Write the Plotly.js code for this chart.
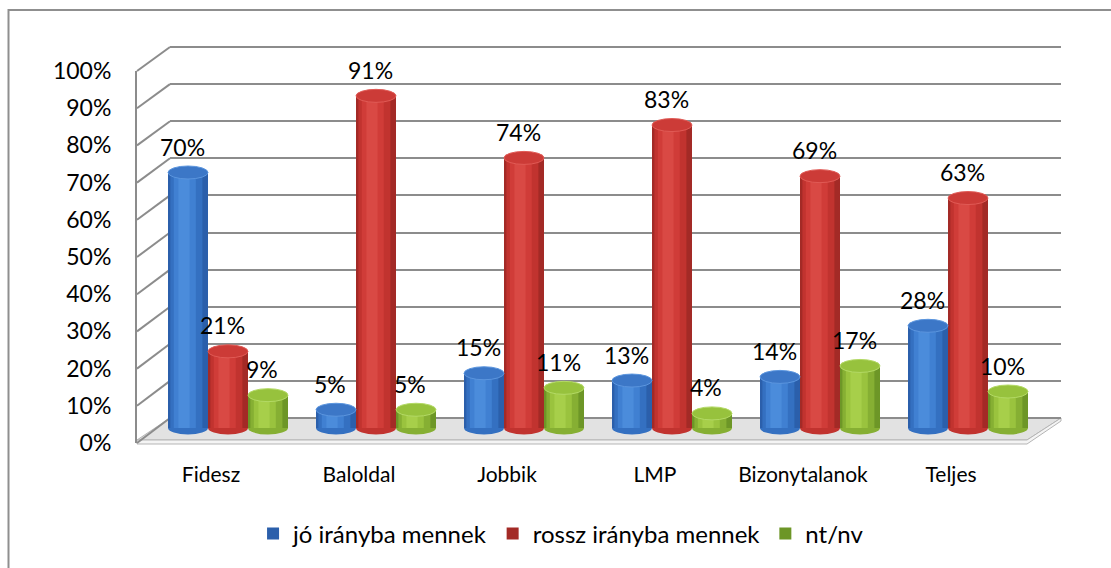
<!DOCTYPE html>
<html>
<head>
<meta charset="utf-8">
<script src="https://cdn.plot.ly/plotly-3.0.1.min.js"></script>
<style>html,body{margin:0;padding:0;background:#fff;}</style>
</head>
<body>
<div id="chart" style="width:1111px;height:568px;"></div>
<script>
// ---------- data ----------
const categories = ['Fidesz', 'Baloldal', 'Jobbik', 'LMP', 'Bizonytalanok', 'Teljes'];
const seriesNames = ['jó irányba mennek', 'rossz irányba mennek', 'nt/nv'];
const joIranyba = [70, 5, 15, 13, 14, 28];
const rosszIranyba = [21, 91, 74, 83, 69, 63];
const ntNv = [9, 5, 11, 4, 17, 10];
const tickValues = [0, 10, 20, 30, 40, 50, 60, 70, 80, 90, 100];
const tickLabels = tickValues.map(v => v + '%');

// ---------- styling ----------
const W = 1111, H = 568;
const px = x => x / W;
const py = y => 1 - y / H;
const seriesValues = [joIranyba, rosszIranyba, ntNv];
const palettes = [
  {layers: ['#2b5fab', '#3470c1', '#4080d2', '#4b8cdb'], cap: '#3c77c7', capLine: '#5b95de'},
  {layers: ['#a32a26', '#c1332f', '#d03c38', '#d94944'], cap: '#cc3b37', capLine: '#e05a55'},
  {layers: ['#6d9627', '#86af33', '#9ac33e', '#a7cf4a'], cap: '#97c23d', capLine: '#b3d965'}
];
const layerSpec = [{wf: 1, sh: 0}, {wf: 0.8, sh: -0.04}, {wf: 0.55, sh: -0.08}, {wf: 0.28, sh: -0.1}];
const bw = 40 / 148;            // bar width in category units
const barPPU = 3.65;            // px per % on bar axis
const eh = 6.5 / barPPU;        // ellipse half height in data units
const gridColor = '#8c8c8c';

const traces = [];
// subplot 1: back wall grid
traces.push({type: 'scatter', x: [], y: [], xaxis: 'x', yaxis: 'y', showlegend: false, hoverinfo: 'skip'});

// subplot 2: bars
seriesValues.forEach((vals, s) => {
  layerSpec.forEach((L, k) => {
    traces.push({
      type: 'bar', x: categories, y: vals, xaxis: 'x2', yaxis: 'y2',
      width: bw * L.wf,
      offset: (s - 1) * bw - bw * L.wf / 2 + L.sh * bw,
      marker: {color: palettes[s].layers[k], line: {width: 0}},
      name: seriesNames[s], legendgroup: 'g' + s, showlegend: k === 0,
      hoverinfo: 'skip'
    });
  });
});

// subplot 3: front axis labels
traces.push({type: 'scatter', x: [], y: [], xaxis: 'x3', yaxis: 'y3', showlegend: false, hoverinfo: 'skip'});

const shapes = [];
// outer frame
shapes.push({type: 'rect', xref: 'paper', yref: 'paper', x0: px(8.5), x1: 1.1, y0: -0.1, y1: py(10),
  line: {color: '#8f8f8f', width: 2}, layer: 'below'});
// floor
shapes.push({type: 'path', xref: 'paper', yref: 'paper', layer: 'below',
  path: `M${px(137)},${py(440)} L${px(170)},${py(418)} L${px(1061)},${py(418)} L${px(1027)},${py(440)} Z`,
  fillcolor: '#e2e2e2', line: {color: '#b5b5b5', width: 1}});
shapes.push({type: 'path', xref: 'paper', yref: 'paper', layer: 'below',
  path: `M${px(137)},${py(440)} L${px(1027)},${py(440)} L${px(1061)},${py(418)} L${px(1061)},${py(421)} L${px(1027)},${py(444)} L${px(137)},${py(444)} Z`,
  fillcolor: '#f4f4f4', line: {color: '#b5b5b5', width: 1}});
// side wall diagonals
tickValues.forEach(t => {
  shapes.push({type: 'line', xref: 'paper', yref: 'paper', layer: 'below',
    x0: px(137), y0: py(443 - t * 3.72), x1: px(170), y1: py(418 - t * 3.71),
    line: {color: gridColor, width: 2}});
});
// cylinder ends
seriesValues.forEach((vals, s) => {
  vals.forEach((v, i) => {
    const xc = i + (s - 1) * bw;
    shapes.push({type: 'circle', xref: 'x2', yref: 'y2', layer: 'below',
      x0: xc - bw / 2, x1: xc + bw / 2, y0: -eh, y1: eh,
      fillcolor: palettes[s].layers[1], line: {width: 0}});
    shapes.push({type: 'circle', xref: 'x2', yref: 'y2', layer: 'above',
      x0: xc - bw / 2, x1: xc + bw / 2, y0: v - eh, y1: v + eh,
      fillcolor: palettes[s].cap, line: {color: palettes[s].capLine, width: 1}});
  });
});

// data labels
const annotations = [];
seriesValues.forEach((vals, s) => {
  vals.forEach((v, i) => {
    annotations.push({xref: 'x2', yref: 'y2', x: categories[i], y: v,
      xshift: (s - 1) * 40 - 6, yshift: 26, text: v + '%', showarrow: false,
      xanchor: 'center', yanchor: 'middle', font: {size: 23, color: '#000'}});
  });
});

const layout = {
  width: W, height: H,
  margin: {l: 0, r: 0, t: 0, b: 0},
  paper_bgcolor: '#ffffff', plot_bgcolor: 'rgba(0,0,0,0)',
  font: {family: 'Lato, "Open Sans", sans-serif', color: '#000', size: 21},
  barmode: 'overlay',
  showlegend: true,
  xaxis: {domain: [px(170), px(1061)], range: [0, 1], anchor: 'y', showgrid: false, zeroline: false,
    showticklabels: false, ticks: '', showline: false, fixedrange: true},
  yaxis: {domain: [py(421.71), py(43.29)], range: [-1, 101], anchor: 'x', tickmode: 'linear', tick0: 0, dtick: 10,
    showgrid: true, gridcolor: gridColor, gridwidth: 2, zeroline: false, showticklabels: false, ticks: '',
    showline: false, fixedrange: true},
  xaxis2: {domain: [px(154), px(1042)], type: 'category', range: [-0.5, 5.5], anchor: 'y2', showgrid: false,
    zeroline: false, showticklabels: false, ticks: '', showline: false, fixedrange: true},
  yaxis2: {domain: [py(446.25), py(55.7)], range: [-5, 102], anchor: 'x2', showgrid: false, zeroline: false,
    showticklabels: false, ticks: '', showline: false, fixedrange: true},
  xaxis3: {domain: [px(137), px(1025)], range: [-0.5, 5.5], anchor: 'y3', tickmode: 'array',
    tickvals: categories.map((c, i) => i), ticktext: categories, showgrid: false, zeroline: false,
    showline: false, ticks: '', ticklabelstandoff: 17, tickfont: {size: 21}, fixedrange: true},
  yaxis3: {domain: [py(443), py(71)], range: [0, 100], anchor: 'x3', tickmode: 'array',
    tickvals: tickValues, ticktext: tickLabels, showgrid: false, zeroline: false,
    showline: true, linecolor: gridColor, linewidth: 2, ticks: '', ticklabelstandoff: 19,
    tickfont: {size: 23}, fixedrange: true},
  legend: {orientation: 'h', x: 0.505, xanchor: 'center', y: py(534), yanchor: 'middle',
    font: {size: 24}, bgcolor: 'rgba(0,0,0,0)', traceorder: 'normal', itemwidth: 30},
  shapes: shapes,
  annotations: annotations
};

Plotly.newPlot('chart', traces, layout, {staticPlot: true, displayModeBar: false});
</script>
</body>
</html>
